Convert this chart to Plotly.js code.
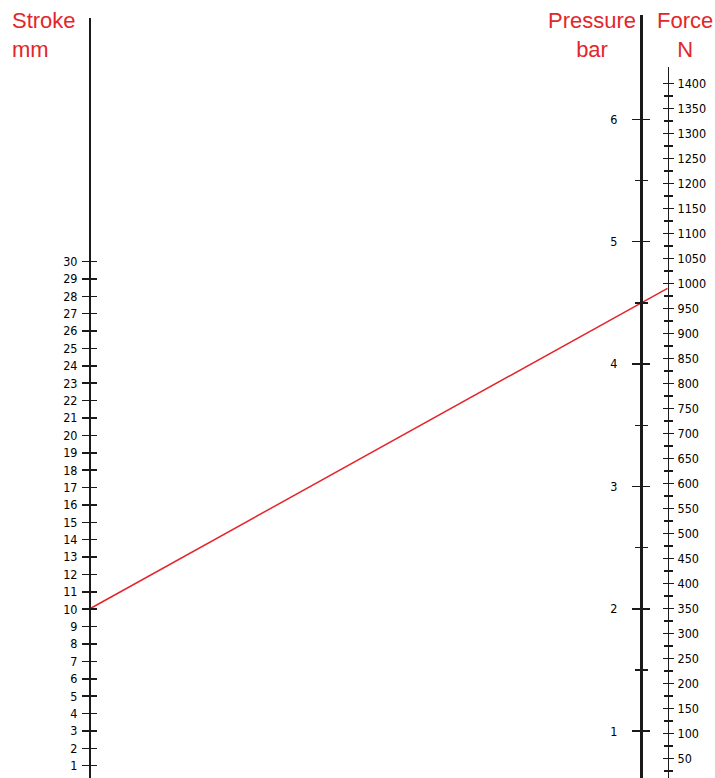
<!DOCTYPE html>
<html>
<head>
<meta charset="utf-8">
<script src="https://cdn.plot.ly/plotly-3.0.1.min.js"></script>
<style>html,body{margin:0;padding:0;background:#fff}#chart{width:715px;height:778px}</style>
</head>
<body>
<div id="chart"></div>
<script>
// ---------- data ----------
const strokeTicks = [1,2,3,4,5,6,7,8,9,10,11,12,13,14,15,16,17,18,19,20,21,22,23,24,25,26,27,28,29,30];
const pressureTicks = [1,2,3,4,5,6];
const pressureHalfTicks = [1.5,2.5,3.5,4.5,5.5];
const forceTicks = [50,100,150,200,250,300,350,400,450,500,550,600,650,700,750,800,850,900,950,1000,1050,1100,1150,1200,1250,1300,1350,1400];
const forceMinorTicks = [25,75,125,175,225,275,325,375,425,475,525,575,625,675,725,775,825,875,925,975,1025,1075,1125,1175,1225,1275,1325,1375];
// example reading drawn across the nomogram
const readingStroke = 10;
const readingPressure = 4.5;
const readingForce = 990;
const titles = ["Stroke<br>mm", "Pressure<br>bar", "Force<br>N"];

// ---------- geometry (layout) ----------
const W = 715, H = 778;
const RED = '#e3262b', INK = '#1a1a1a';
const tickFont = {family: 'DejaVu Sans Condensed, Liberation Sans Narrow, Arial Narrow, sans-serif', size: 12.5, color: '#000'};
const TW = 1.5;
// pixel calibration of each scale: [value, pixel y] pairs, plus axis top pixel and x pixel
const scales = {
  stroke:   {a: [1, 765.7],  b: [30, 261.5],   top: 18, x: 89},
  pressure: {a: [1, 731.2],  b: [6, 119.3],    top: 15, x: 641},
  force:    {a: [50, 758.3], b: [1400, 83.3],  top: 67, x: 667.5}
};
function valAt(s, py) { const k = (s.b[0]-s.a[0])/(s.a[1]-s.b[1]); return s.a[0] + (s.a[1]-py)*k; }
function pyAt(s, v) { const k = (s.b[0]-s.a[0])/(s.a[1]-s.b[1]); return s.a[1] - (v - s.a[0])/k; }
function rng(s) { return [valAt(s, H), valAt(s, s.top)]; }
function dom(s) { return [0, (H - s.top)/H]; }
function xpos(s) { return s.x / W; }

function ax(s, extra) {
  return Object.assign({
    anchor: 'free', position: xpos(s), domain: dom(s), range: rng(s),
    showgrid: false, zeroline: false, fixedrange: true,
    tickcolor: INK, tickwidth: TW, tickfont: tickFont,
    showline: false
  }, extra);
}

const S = scales.stroke, P = scales.pressure, F = scales.force;

const layout = {
  width: W, height: H,
  margin: {l: 0, r: 0, t: 0, b: 0, pad: 0},
  paper_bgcolor: '#fff', plot_bgcolor: 'rgba(0,0,0,0)',
  showlegend: false,
  xaxis: {domain: [0, 1], range: [0, 1], visible: false, anchor: 'y', fixedrange: true},
  // stroke
  yaxis:  ax(S, {side: 'left', tickmode: 'array', tickvals: strokeTicks, ticktext: strokeTicks.map(String),
                 ticks: 'outside', ticklen: 7, showline: true, linewidth: 1.5, linecolor: INK, ticklabelstandoff: 2}),
  yaxis2: ax(S, {side: 'left', tickmode: 'array', tickvals: strokeTicks, ticks: 'inside', ticklen: 7, showticklabels: false}),
  // pressure
  yaxis3: ax(P, {side: 'left', tickmode: 'array', tickvals: pressureTicks, ticktext: pressureTicks.map(String),
                 ticks: 'outside', ticklen: 8, showline: true, linewidth: 2.6, linecolor: INK, ticklabelstandoff: 12,
                 minor: {tickmode: 'array', tickvals: pressureHalfTicks, ticks: 'outside', ticklen: 5, tickwidth: TW, tickcolor: INK}}),
  yaxis4: ax(P, {side: 'left', tickmode: 'array', tickvals: pressureTicks, ticks: 'inside', ticklen: 8, showticklabels: false,
                 minor: {tickmode: 'array', tickvals: pressureHalfTicks, ticks: 'inside', ticklen: 6, tickwidth: TW, tickcolor: INK}}),
  // force
  yaxis5: ax(F, {side: 'right', tickmode: 'array', tickvals: forceTicks, ticktext: forceTicks.map(String),
                 ticks: 'outside', ticklen: 5, showline: true, linewidth: 1.5, linecolor: INK, ticklabelstandoff: 1,
                 minor: {tickmode: 'array', tickvals: forceMinorTicks, ticks: 'outside', ticklen: 3.5, tickwidth: TW, tickcolor: INK}}),
  yaxis6: ax(F, {side: 'right', tickmode: 'array', tickvals: forceTicks, ticks: 'inside', ticklen: 5, showticklabels: false,
                 minor: {tickmode: 'array', tickvals: forceMinorTicks, ticks: 'inside', ticklen: 3.5, tickwidth: TW, tickcolor: INK}}),
  annotations: [
    {text: titles[0], xref: 'paper', yref: 'paper', x: 10/W, xanchor: 'left', y: 1 - 6/H, yanchor: 'top', align: 'left', showarrow: false,
     font: {family: 'Liberation Sans, Arial, sans-serif', size: 22, color: RED}},
    {text: titles[1], xref: 'paper', yref: 'paper', x: 592/W, xanchor: 'center', y: 1 - 6/H, yanchor: 'top', align: 'center', showarrow: false,
     font: {family: 'Liberation Sans, Arial, sans-serif', size: 22, color: RED}},
    {text: titles[2], xref: 'paper', yref: 'paper', x: 685/W, xanchor: 'center', y: 1 - 6/H, yanchor: 'top', align: 'center', showarrow: false,
     font: {family: 'Liberation Sans, Arial, sans-serif', size: 22, color: RED}}
  ]
};

// empty traces to register each axis' subplot
const traces = ['y2','y3','y4','y5','y6'].map(id => ({type: 'scatter', x: [], y: [], xaxis: 'x', yaxis: id, hoverinfo: 'skip', showlegend: false}));

// reading line: each reading mapped through its own scale into the stroke axis' units
const lineY = [
  readingStroke,
  valAt(S, pyAt(P, readingPressure)),
  valAt(S, pyAt(F, readingForce))
];
traces.push({
  type: 'scatter', mode: 'lines', xaxis: 'x', yaxis: 'y',
  x: [xpos(S), xpos(P), xpos(F)], y: lineY,
  line: {color: RED, width: 1.5}, hoverinfo: 'skip', cliponaxis: false
});

Plotly.newPlot('chart', traces, layout, {staticPlot: true, displayModeBar: false});
</script>
</body>
</html>
